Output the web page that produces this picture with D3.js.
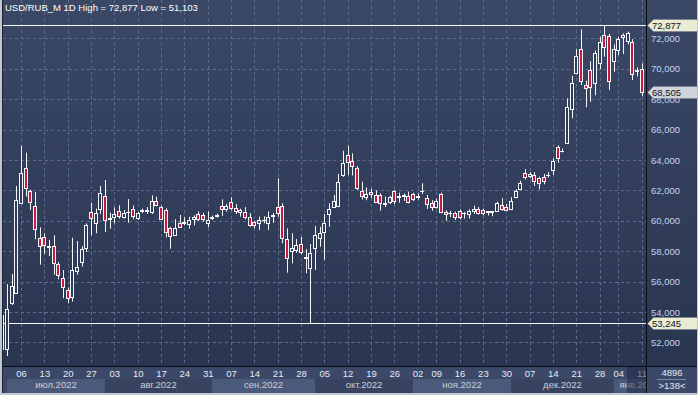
<!DOCTYPE html>
<html>
<head>
<meta charset="utf-8">
<script src="https://cdn.jsdelivr.net/npm/d3@7"></script>
<style>
  html, body { margin: 0; padding: 0; background: #c3c7cf; }
  svg { display: block; font-family: "Liberation Sans", Arial, sans-serif; }
</style>
</head>
<body>
<div id="chart"></div>
<script>
// -------------------- DATA --------------------
const dates = [
  "2022-06-30",
  "2022-07-01","2022-07-04","2022-07-05","2022-07-06","2022-07-07","2022-07-08","2022-07-11","2022-07-12","2022-07-13","2022-07-14",
  "2022-07-15","2022-07-18","2022-07-19","2022-07-20","2022-07-21","2022-07-22","2022-07-25","2022-07-26","2022-07-27","2022-07-28","2022-07-29",
  "2022-08-01","2022-08-02","2022-08-03","2022-08-04","2022-08-05","2022-08-08","2022-08-09","2022-08-10","2022-08-11","2022-08-12",
  "2022-08-15","2022-08-16","2022-08-17","2022-08-18","2022-08-19","2022-08-22","2022-08-23","2022-08-24","2022-08-25","2022-08-26",
  "2022-08-29","2022-08-30","2022-08-31",
  "2022-09-01","2022-09-02","2022-09-05","2022-09-06","2022-09-07","2022-09-08","2022-09-09","2022-09-12","2022-09-13","2022-09-14",
  "2022-09-15","2022-09-16","2022-09-19","2022-09-20","2022-09-21","2022-09-22","2022-09-23","2022-09-26","2022-09-27","2022-09-28",
  "2022-09-29","2022-09-30",
  "2022-10-03","2022-10-04","2022-10-05","2022-10-06","2022-10-07","2022-10-10","2022-10-11","2022-10-12","2022-10-13","2022-10-14",
  "2022-10-17","2022-10-18","2022-10-19","2022-10-20","2022-10-21","2022-10-24","2022-10-25","2022-10-26","2022-10-27","2022-10-28",
  "2022-10-31",
  "2022-11-01","2022-11-02","2022-11-03","2022-11-07","2022-11-08","2022-11-09","2022-11-10","2022-11-11","2022-11-14","2022-11-15",
  "2022-11-16","2022-11-17","2022-11-18","2022-11-21","2022-11-22","2022-11-23","2022-11-24","2022-11-25","2022-11-28","2022-11-29",
  "2022-11-30",
  "2022-12-01","2022-12-02","2022-12-05","2022-12-06","2022-12-07","2022-12-08","2022-12-09","2022-12-12","2022-12-13","2022-12-14",
  "2022-12-15","2022-12-16","2022-12-19","2022-12-20","2022-12-21","2022-12-22","2022-12-23","2022-12-26","2022-12-27","2022-12-28",
  "2022-12-29","2022-12-30",
  "2023-01-03","2023-01-04","2023-01-05","2023-01-06","2023-01-09","2023-01-10","2023-01-11"
];

const open = [
  53.80, 51.57, 54.61, 55.27, 61.19, 63.45, 61.96, 60.97, 58.85, 58.91,
  58.28, 58.32, 57.16, 56.22, 55.43, 54.97, 56.68, 57.27, 58.19, 60.60,
  59.83, 60.80, 61.63, 60.12, 60.27, 60.62, 60.27, 60.56, 60.76, 60.18,
  60.65, 60.66, 60.58, 61.28, 60.89, 60.71, 59.51, 59.08, 59.83, 59.88,
  59.79, 60.12, 60.45, 60.36, 59.88, 60.18, 60.33, 60.97, 60.79, 61.22,
  60.82, 60.56, 60.60, 60.27, 59.92, 59.83, 60.02, 59.83, 60.33, 60.93,
  60.97, 58.80, 58.01, 58.08, 58.47, 57.58, 56.88, 58.23, 58.85, 59.28,
  60.45, 60.93, 60.99, 63.00, 64.33, 63.95, 63.45, 61.98, 61.55, 61.90,
  61.70, 61.70, 61.12, 61.26, 61.94, 61.57, 61.60, 61.65, 61.76, 61.54,
  61.93, 61.48, 61.19, 60.89, 61.76, 60.58, 60.52, 60.53, 60.62, 60.52,
  60.45, 60.62, 60.76, 60.71, 60.61, 60.61, 60.67, 61.04, 60.93, 60.80,
  61.59, 62.07, 63.13, 62.95, 63.01, 62.80, 62.90, 63.02, 63.34, 64.88,
  64.58, 65.14, 67.34, 69.70, 71.28, 68.91, 69.92, 69.05, 70.40, 72.22,
  72.16, 70.50, 71.24, 72.10, 71.85, 71.78, 69.85, 69.97
];

const high = [
  54.10, 55.84, 56.50, 62.29, 64.92, 64.48, 62.05, 61.90, 59.57, 59.18,
  58.74, 59.05, 57.29, 56.76, 55.62, 58.89, 58.67, 58.32, 59.83, 61.19,
  60.80, 62.29, 62.68, 60.53, 60.89, 61.02, 60.71, 61.43, 61.00, 60.58,
  60.80, 60.90, 61.68, 61.59, 61.00, 60.82, 59.60, 60.10, 60.38, 60.23,
  60.27, 60.36, 60.62, 60.53, 60.60, 60.34, 60.47, 61.41, 61.10, 61.55,
  61.10, 60.80, 60.90, 60.50, 60.00, 60.27, 60.30, 60.62, 60.52, 62.80,
  61.15, 59.50, 59.18, 58.80, 58.95, 58.13, 58.47, 59.66, 59.60, 60.45,
  61.15, 61.70, 63.08, 64.61, 64.92, 64.44, 63.60, 62.57, 62.20, 62.10,
  62.00, 61.80, 61.60, 61.65, 62.02, 61.85, 61.80, 61.92, 61.85, 61.80,
  62.47, 61.70, 61.35, 61.45, 61.85, 60.70, 60.65, 60.60, 60.75, 60.58,
  60.75, 61.00, 60.90, 60.80, 60.63, 60.63, 61.26, 61.48, 61.10, 61.55,
  62.07, 62.64, 63.40, 63.20, 63.20, 62.90, 63.08, 63.20, 64.10, 64.96,
  64.75, 68.06, 69.53, 71.28, 72.60, 69.22, 70.50, 71.20, 72.11, 72.877,
  72.30, 71.60, 72.10, 72.33, 72.45, 71.95, 70.10, 70.36
];

const low = [
  51.35, 51.103, 54.46, 55.20, 61.10, 61.59, 60.71, 58.78, 57.11, 57.82,
  57.68, 56.45, 56.15, 54.90, 54.57, 54.68, 56.45, 56.98, 57.95, 59.05,
  59.18, 60.45, 59.26, 59.48, 59.83, 60.14, 60.14, 59.87, 60.10, 60.05,
  60.50, 60.45, 60.45, 60.95, 60.05, 58.91, 58.16, 59.00, 59.55, 59.70,
  59.48, 59.70, 59.98, 59.95, 59.57, 60.05, 60.21, 60.32, 60.60, 60.70,
  60.45, 60.27, 60.10, 59.60, 59.50, 59.40, 59.83, 59.40, 59.86, 60.27,
  58.52, 56.59, 57.20, 57.90, 57.80, 56.55, 53.245, 56.76, 58.30, 57.42,
  59.61, 60.85, 60.90, 62.90, 63.01, 62.98, 62.03, 61.40, 61.35, 61.50,
  61.20, 60.67, 60.90, 61.10, 61.10, 61.20, 61.30, 61.15, 61.30, 61.40,
  61.76, 60.78, 60.66, 60.80, 60.50, 60.00, 60.25, 60.05, 60.10, 60.15,
  60.15, 60.45, 60.40, 60.35, 60.35, 60.30, 60.60, 60.66, 60.68, 60.70,
  61.48, 62.02, 62.72, 62.80, 62.29, 62.07, 62.40, 62.85, 63.01, 63.82,
  64.50, 65.10, 66.74, 69.65, 68.93, 67.47, 67.84, 68.26, 69.96, 70.80,
  68.60, 69.80, 70.90, 70.97, 71.60, 69.26, 69.50, 68.21
];

const close = [
  51.57, 54.20, 55.71, 61.37, 63.13, 62.14, 61.26, 59.44, 58.36, 58.39,
  58.36, 57.20, 56.41, 55.62, 54.92, 56.76, 56.96, 58.16, 59.72, 60.16,
  60.53, 61.81, 60.05, 60.18, 60.43, 60.32, 60.49, 60.60, 60.32, 60.49,
  60.69, 60.68, 61.28, 61.02, 60.10, 59.28, 59.02, 59.51, 59.61, 59.92,
  60.05, 60.27, 60.14, 60.14, 60.05, 60.22, 60.35, 60.76, 60.97, 60.82,
  60.64, 60.71, 60.23, 59.70, 59.70, 60.05, 60.06, 60.23, 60.38, 60.49,
  58.85, 57.53, 58.23, 58.41, 57.93, 57.62, 57.90, 59.07, 59.18, 59.83,
  60.76, 61.30, 62.55, 63.82, 63.85, 63.60, 62.14, 61.63, 61.76, 61.76,
  61.26, 61.19, 61.17, 61.55, 61.28, 61.60, 61.67, 61.24, 61.46, 61.63,
  61.95, 61.09, 60.89, 61.32, 60.60, 60.45, 60.54, 60.27, 60.23, 60.54,
  60.64, 60.80, 60.53, 60.49, 60.62, 60.62, 61.19, 60.78, 60.71, 61.32,
  61.98, 62.51, 62.86, 63.08, 62.60, 62.51, 62.64, 63.04, 63.95, 64.11,
  64.60, 67.47, 69.05, 70.84, 69.22, 68.72, 68.78, 71.06, 71.78, 71.41,
  69.22, 71.30, 71.96, 72.20, 72.37, 69.66, 69.89, 68.505
];

const priceTicks = [52, 54, 56, 58, 60, 62, 64, 66, 68, 70, 72];

const weekTicks = [
  "2022-07-06","2022-07-13","2022-07-20","2022-07-27","2022-08-03","2022-08-10","2022-08-17","2022-08-24","2022-08-31",
  "2022-09-07","2022-09-14","2022-09-21","2022-09-28","2022-10-05","2022-10-12","2022-10-19","2022-10-26",
  "2022-11-02","2022-11-09","2022-11-16","2022-11-23","2022-11-30","2022-12-07","2022-12-14","2022-12-21","2022-12-28",
  "2023-01-04","2023-01-11"
];

const months = ["2022-07","2022-08","2022-09","2022-10","2022-11","2022-12","2023-01"];
const monthNames = ["июл.2022","авг.2022","сен.2022","окт.2022","ноя.2022","дек.2022","янв.2023"];

const levels = [
  { value: 72.877, fill: "#e9ebd2" },
  { value: 68.505, fill: "#cfd3db" },
  { value: 53.245, fill: "#e9ebd2" }
];
const hLines = [72.877, 53.245];

const title = "USD/RUB_M 1D High = 72,877 Low = 51,103";

// -------------------- CHART --------------------
const W = 698, H = 395;
const plotRight = 646, plotBottom = 366;

const x = d3.scalePoint().domain(dates).range([2.4, 641.5]);
const y = d3.scaleLinear().domain([52, 72]).range([342.4, 38.4]);

const ru = d3.formatLocale({ decimal: ",", thousands: " ", grouping: [3], currency: ["", ""] });
const fmt = ru.format(".3f");

const svg = d3.select("#chart").append("svg")
  .attr("width", W)
  .attr("height", H);

const defs = svg.append("defs");
const grad = defs.append("linearGradient")
  .attr("id", "bg").attr("x1", 0).attr("y1", 0).attr("x2", 0).attr("y2", 1);
grad.append("stop").attr("offset", "0%").attr("stop-color", "#3a4866");
grad.append("stop").attr("offset", "100%").attr("stop-color", "#2a3550");

defs.append("clipPath").attr("id", "plotClip")
  .append("rect").attr("x", 3).attr("y", 0).attr("width", plotRight - 3).attr("height", plotBottom);
defs.append("clipPath").attr("id", "axisClip")
  .append("rect").attr("x", 2).attr("y", plotBottom + 1).attr("width", plotRight - 2).attr("height", 26);

svg.append("rect").attr("width", W).attr("height", H).attr("fill", "#c3c7cf");
svg.append("rect").attr("x", 2).attr("y", 0).attr("width", 695).attr("height", plotBottom).attr("fill", "url(#bg)");
svg.append("rect").attr("x", 2).attr("y", plotBottom + 1).attr("width", 695).attr("height", 26).attr("fill", "#3b4868");

// grid
const grid = svg.append("g").attr("clip-path", "url(#plotClip)")
  .attr("stroke", "#5d6c8c").attr("stroke-dasharray", "3,3").attr("stroke-width", 1);
priceTicks.forEach(v => {
  const yy = Math.round(y(v)) + 0.5;
  grid.append("line").attr("x1", 3).attr("x2", plotRight).attr("y1", yy).attr("y2", yy);
});
weekTicks.forEach(d => {
  const xx = Math.round(x(d)) + 0.5;
  grid.append("line").attr("x1", xx).attr("x2", xx).attr("y1", 0).attr("y2", plotBottom);
});

// level lines
const plotG = svg.append("g").attr("clip-path", "url(#plotClip)");
hLines.forEach(v => {
  const yy = Math.round(y(v)) + 0.5;
  plotG.append("line").attr("x1", 3).attr("x2", plotRight).attr("y1", yy).attr("y2", yy)
    .attr("stroke", "#f2f4f8").attr("stroke-width", 1);
});

// candles
const bars = dates.map((d, i) => ({ d, o: open[i], h: high[i], l: low[i], c: close[i] }));
const cg = plotG.append("g");
bars.forEach(b => {
  const n = Math.round(x(b.d));
  const wx = n + 0.5;
  const top = Math.round(y(Math.max(b.o, b.c))) + 0.5;
  const bot = Math.round(y(Math.min(b.o, b.c))) + 0.5;
  const up = b.c >= b.o;
  cg.append("line").attr("x1", wx).attr("x2", wx)
    .attr("y1", y(b.h)).attr("y2", top).attr("stroke", "#f4f6fa");
  cg.append("line").attr("x1", wx).attr("x2", wx)
    .attr("y1", bot).attr("y2", y(b.l)).attr("stroke", "#f4f6fa");
  if (bot - top < 1) {
    cg.append("line").attr("x1", n - 2).attr("x2", n + 2)
      .attr("y1", top).attr("y2", top).attr("stroke", "#f4f6fa");
  } else {
    cg.append("rect")
      .attr("x", n - 1.5).attr("width", 3)
      .attr("y", top).attr("height", bot - top)
      .attr("fill", up ? "#2f3c58" : "#c8193f")
      .attr("stroke", "#f4f6fa").attr("stroke-width", 1);
  }
});

// right price axis
const yAxisG = svg.append("g")
  .attr("transform", `translate(${plotRight + 1},0)`)
  .call(d3.axisRight(y).tickValues(priceTicks).tickSize(0).tickPadding(4).tickFormat(fmt));
yAxisG.select(".domain").remove();
yAxisG.selectAll("text")
  .attr("fill", "#c6d2ea")
  .style("font-size", "9.5px")
  .style("font-family", "'Liberation Sans', Arial, sans-serif");

// price tags
levels.forEach(t => {
  const yc = Math.round(y(t.value)) + 0.5;
  svg.append("polygon")
    .attr("points", [[647.5, yc], [653.5, yc - 6], [698, yc - 6], [698, yc + 6], [653.5, yc + 6]].join(" "))
    .attr("fill", t.fill).attr("stroke", "#7a8090").attr("stroke-width", 0.6);
  svg.append("text")
    .attr("x", 652).attr("y", yc + 3.5)
    .attr("fill", "#141414").style("font-size", "9.5px")
    .text(fmt(t.value));
});

// bottom time axis
const axisG = svg.append("g").attr("clip-path", "url(#axisClip)");
const monthStart = months.map(m => dates.find(d => d.startsWith(m)));
months.forEach((m, i) => {
  const x0 = Math.round(x(monthStart[i]));
  const x1 = i < months.length - 1 ? Math.round(x(monthStart[i + 1])) : plotRight;
  axisG.append("rect")
    .attr("x", x0).attr("y", 379).attr("width", x1 - x0).attr("height", 14)
    .attr("fill", i % 2 === 0 ? "#4b5a7a" : "#37435f");
  const cxm = Math.max((x0 + x1) / 2, x0 + 25);
  axisG.append("text")
    .attr("x", cxm).attr("y", 388)
    .attr("text-anchor", "middle")
    .attr("fill", "#c9d0dc").style("font-size", "9.5px")
    .text(monthNames[i]);
});

const xAxisG = axisG.append("g")
  .attr("transform", `translate(0,${plotBottom + 1})`)
  .call(d3.axisBottom(x).tickValues(weekTicks).tickSize(0).tickPadding(3).tickFormat(d => d.slice(8)));
xAxisG.select(".domain").remove();
xAxisG.selectAll("text")
  .attr("fill", "#e6eaf2")
  .style("font-size", "9.5px")
  .style("font-family", "'Liberation Sans', Arial, sans-serif");

// shaded scroll box at right end of the time axis
axisG.append("rect")
  .attr("x", 627).attr("y", plotBottom + 1).attr("width", 19).attr("height", 26)
  .attr("fill", "#1c2540").attr("opacity", 0.5);

// separators
svg.append("line").attr("x1", plotRight + 0.5).attr("x2", plotRight + 0.5).attr("y1", 0).attr("y2", 393)
  .attr("stroke", "#0a0d14");
svg.append("line").attr("x1", 2).attr("x2", 697).attr("y1", plotBottom + 0.5).attr("y2", plotBottom + 0.5)
  .attr("stroke", "#0a0d14");
svg.append("line").attr("x1", 2.5).attr("x2", 2.5).attr("y1", 0).attr("y2", 393)
  .attr("stroke", "#1c2436");

// bottom-right counters
svg.append("text").attr("x", 672).attr("y", 376).attr("text-anchor", "middle")
  .attr("fill", "#e6eaf2").style("font-size", "9.5px").text("4896");
svg.append("line").attr("x1", 657).attr("x2", 686).attr("y1", 379.5).attr("y2", 379.5)
  .attr("stroke", "#7d8cab");
svg.append("text").attr("x", 672).attr("y", 389).attr("text-anchor", "middle")
  .attr("fill", "#e6eaf2").style("font-size", "9.5px").text(">138<");

// title
svg.append("text").attr("x", 5).attr("y", 11)
  .attr("fill", "#ffffff").style("font-size", "9.5px")
  .text(title);
</script>
</body>
</html>
